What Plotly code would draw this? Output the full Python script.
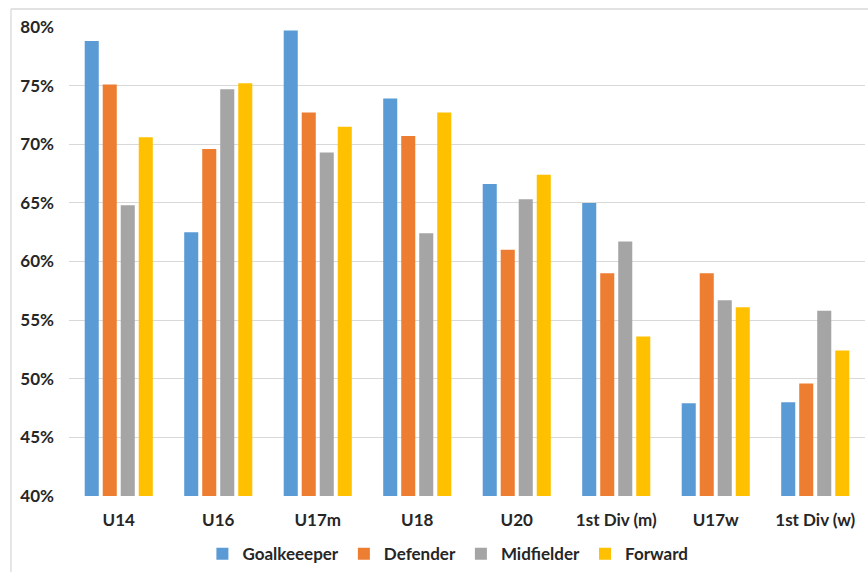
import plotly.graph_objects as go

categories = ["U14", "U16", "U17m", "U18", "U20", "1st Div (m)", "U17w", "1st Div (w)"]
goalkeeper = [78.8, 62.5, 79.7, 73.9, 66.6, 65.0, 47.9, 48.0]
defender = [75.1, 69.6, 72.7, 70.7, 61.0, 59.0, 59.0, 49.6]
midfielder = [64.8, 74.7, 69.3, 62.4, 65.3, 61.7, 56.7, 55.8]
forward = [70.6, 75.2, 71.5, 72.7, 67.4, 53.6, 56.1, 52.4]

series_names = ["Goalkeeeper", "Defender", "Midfielder", "Forward"]
series_values = [goalkeeper, defender, midfielder, forward]
colors = ["#5B9BD5", "#ED7D31", "#A5A5A5", "#FFC000"]

y_ticks = [40, 45, 50, 55, 60, 65, 70, 75, 80]
y_tick_labels = [f"{v}%" for v in y_ticks]

fig = go.Figure()
for name, vals, col in zip(series_names, series_values, colors):
    fig.add_trace(go.Bar(
        x=categories, y=[v - 40 for v in vals], base=40, name=name,
        marker=dict(color=col, line=dict(width=0)),
    ))

font_family = "Lato, 'Open Sans', sans-serif"
fig.update_layout(
    width=868, height=572,
    margin=dict(l=69, r=3, t=27, b=76, autoexpand=False),
    paper_bgcolor="white", plot_bgcolor="white",
    barmode="group", bargap=0.276, bargroupgap=0.22,
    font=dict(family=font_family, size=17, color="#262626"),
    showlegend=True,
    legend=dict(
        orientation="h", x=0.476, xanchor="center", y=-0.124, yanchor="middle",
        font=dict(family=font_family, size=17, color="#262626", weight="bold"),
        itemwidth=30, traceorder="normal",
    ),
    xaxis=dict(
        showgrid=False, zeroline=False, showline=False, ticks="",
        tickfont=dict(family=font_family, size=17, color="#262626", weight="bold"),
        ticklabelstandoff=12, automargin=False,
    ),
    yaxis=dict(
        range=[40, 80], tickvals=y_ticks, ticktext=y_tick_labels,
        showgrid=True, gridcolor="#D9D9D9", gridwidth=1.3,
        zeroline=False, showline=False, ticks="",
        tickfont=dict(family=font_family, size=17, color="#262626", weight="bold"),
        ticklabelstandoff=14, automargin=False,
    ),
    shapes=[
        dict(type="line", xref="paper", yref="paper",
             x0=(11 - 69) / 796, x1=1.1, y0=1 + (27 - 9) / 469, y1=1 + (27 - 9) / 469,
             line=dict(color="#D9D9D9", width=1.3)),
        dict(type="line", xref="paper", yref="paper",
             x0=(11 - 69) / 796, x1=(11 - 69) / 796, y0=1 + (27 - 9) / 469, y1=-0.3,
             line=dict(color="#D9D9D9", width=1.3)),
    ],
)

fig.write_html("out.html")
